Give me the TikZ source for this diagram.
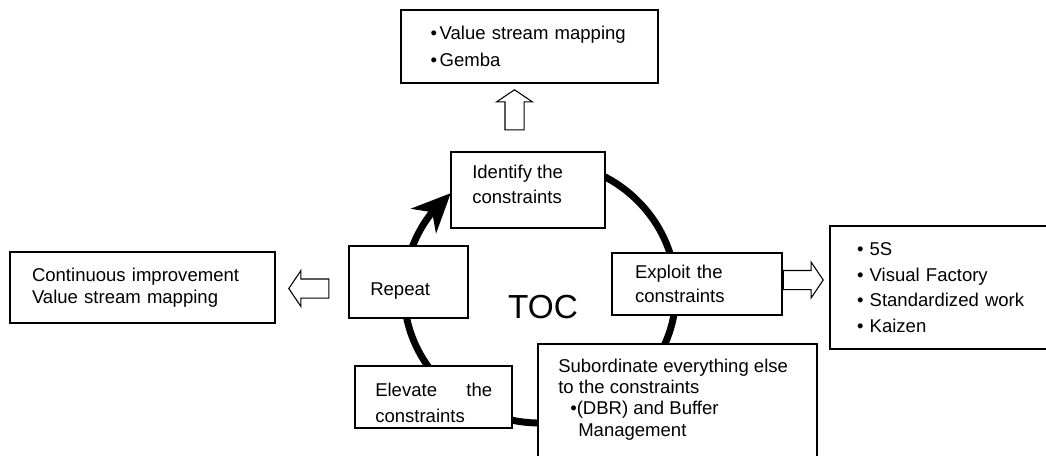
\documentclass[tikz,border=0pt]{standalone}
\usepackage{fontspec}
\setmainfont{Liberation Sans}
\usetikzlibrary{arrows.meta,bending,shapes.arrows}
\begin{document}
\begin{tikzpicture}[x=0.75pt,y=-0.75pt,
  box/.style={draw, line width=1.1pt, fill=white, align=left, inner sep=0pt},
  txt/.style={font={\fontsize{13.9pt}{#1}\selectfont}},
  plain/.style={align=left, inner sep=0pt, anchor=north west},
  blockarrow/.style={single arrow, draw, line width=0.8pt, fill=white,
    inner xsep=0pt, inner ysep=9*0.75pt, minimum height=40*0.75pt,
    single arrow head extend=8.5*0.75pt, single arrow tip angle=112},
  cycle/.style={line width=5.2pt,
    -{Stealth[length=29pt,width=26pt,inset=9pt]}}]
\clip (0,0) rectangle (1046,455);

% the TOC cycle, drawn first so the step boxes sit on top of it
\draw[cycle] (540,292) ++(-80:136 and 131)
  arc[start angle=-80, end angle=229, x radius=136, y radius=131];

% five focusing steps
\node[box, minimum width=154*0.75pt, minimum height=76*0.75pt]
  (identify) at (528,190) {};
\node[plain, txt=18.75pt] (identtext) at (472,164.5)
  {Identify the\\constraints};
\node[box, txt=18pt, minimum width=170*0.75pt, minimum height=62*0.75pt,
  text width=124*0.75pt] (exploit) at (697,284) {Exploit the\\constraints};
\node[box, minimum width=279*0.75pt, minimum height=132*0.75pt]
  (subordinate) at (677.5,410) {};
\node[plain, txt=16pt] (subtext) at (558,358.5)
  {Subordinate everything else\\to the constraints\\
   \hspace*{9pt}•(DBR) and Buffer\\\hspace*{15pt}Management};
\node[box, minimum width=157*0.75pt, minimum height=62*0.75pt]
  (elevate) at (433.5,397) {};
\node[plain, txt=19.5pt, text width=117*0.75pt] (elevtext) at (375,382.5)
  {Elevate\hfill the\\constraints};
\node[box, minimum width=119*0.75pt, minimum height=72*0.75pt]
  (repeat) at (408.5,282) {};
\node[txt=18pt, inner sep=0pt, anchor=base west] (reptext) at (370,295)
  {Repeat};

\node[font={\fontsize{25pt}{30pt}\selectfont}] (toc) at (543,307) {TOC};

% lean tools attached to the steps
\node[box, txt=20.25pt, minimum width=257*0.75pt, minimum height=73*0.75pt,
  text width=198*0.75pt] (tools) at (529.5,46.5)
  {•\hspace{2pt}Value stream mapping\\•\hspace{2pt}Gemba};
\node[box, txt=19.3pt, minimum width=230*0.75pt, minimum height=123*0.75pt,
  text width=176*0.75pt] (lean) at (945,287.5)
  {•~5S\\•~Visual Factory\\•~Standardized work\\•~Kaizen};
\node[box, txt=16.5pt, minimum width=265*0.75pt, minimum height=71*0.75pt,
  text width=221*0.75pt] (improve) at (142.5,287.5)
  {Continuous improvement\\Value stream mapping};

% hollow block arrows
\node[blockarrow, rotate=90] (uparrow) at (514.5,113) {};
\node[blockarrow] (rightarrow) at (800,280) {};
\node[blockarrow, rotate=180] (leftarrow) at (312,288.5) {};
\end{tikzpicture}
\end{document}
